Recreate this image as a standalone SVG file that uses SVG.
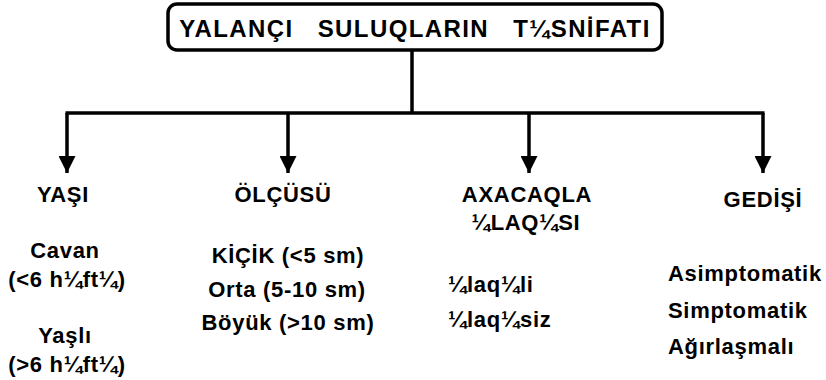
<svg xmlns="http://www.w3.org/2000/svg" width="826" height="380" viewBox="0 0 826 380">
<style>
text{font-family:"Liberation Sans",Arial,sans-serif;font-weight:bold;fill:#000}
.t{font-size:24px;letter-spacing:1.4px}
.b{font-size:22px;letter-spacing:0.7px}
.m{text-anchor:middle}
.ln{stroke:#000;stroke-width:3.5;fill:none}
</style>
<defs>
<marker id="ar" viewBox="0 0 10 10" refX="10" refY="5" markerWidth="17" markerHeight="17" markerUnits="userSpaceOnUse" orient="auto">
<path d="M0,0 L10,5 L0,10 z" fill="#000"/>
</marker>
</defs>
<rect width="826" height="380" fill="#fff"/>
<g id="connectors">
<line class="ln" x1="412" y1="51" x2="412" y2="113"/>
<line class="ln" x1="65.5" y1="113" x2="764.5" y2="113"/>
<line class="ln" x1="67" y1="113" x2="67" y2="173" marker-end="url(#ar)"/>
<line class="ln" x1="288" y1="113" x2="288" y2="173" marker-end="url(#ar)"/>
<line class="ln" x1="529" y1="113" x2="529" y2="173" marker-end="url(#ar)"/>
<line class="ln" x1="763" y1="113" x2="763" y2="173" marker-end="url(#ar)"/>
</g>
<g id="root">
<rect x="168" y="4" width="494" height="46" rx="9" ry="9" fill="#fff" stroke="#000" stroke-width="3.5"/>
<text class="t m" x="415" y="37" xml:space="preserve">YALANÇI   SULUQLARIN   T¼SNİFATI</text>
</g>
<g id="yasi">
<text class="b m" x="63" y="202">YAŞI</text>
<text class="b m" x="65" y="258">Cavan</text>
<text class="b m" x="67" y="287">(&lt;6 h¼ft¼)</text>
<text class="b m" x="65" y="343">Yaşlı</text>
<text class="b m" x="67" y="372">(&gt;6 h¼ft¼)</text>
</g>
<g id="olcusu">
<text class="b m" x="283" y="202">ÖLÇÜSÜ</text>
<text class="b m" x="288" y="263">KİÇİK (&lt;5 sm)</text>
<text class="b m" x="287" y="297">Orta (5-10 sm)</text>
<text class="b m" x="288" y="330">Böyük (&gt;10 sm)</text>
</g>
<g id="axacaqla">
<text class="b m" x="527" y="202">AXACAQLA</text>
<text class="b m" x="526" y="230">¼LAQ¼SI</text>
<text class="b" x="448" y="292">¼laq¼li</text>
<text class="b" x="448" y="327">¼laq¼siz</text>
</g>
<g id="gedisi">
<text class="b m" x="763" y="207">GEDİŞİ</text>
<text class="b" x="668" y="281">Asimptomatik</text>
<text class="b" x="668" y="318">Simptomatik</text>
<text class="b" x="668" y="354">Ağırlaşmalı</text>
</g>
</svg>
